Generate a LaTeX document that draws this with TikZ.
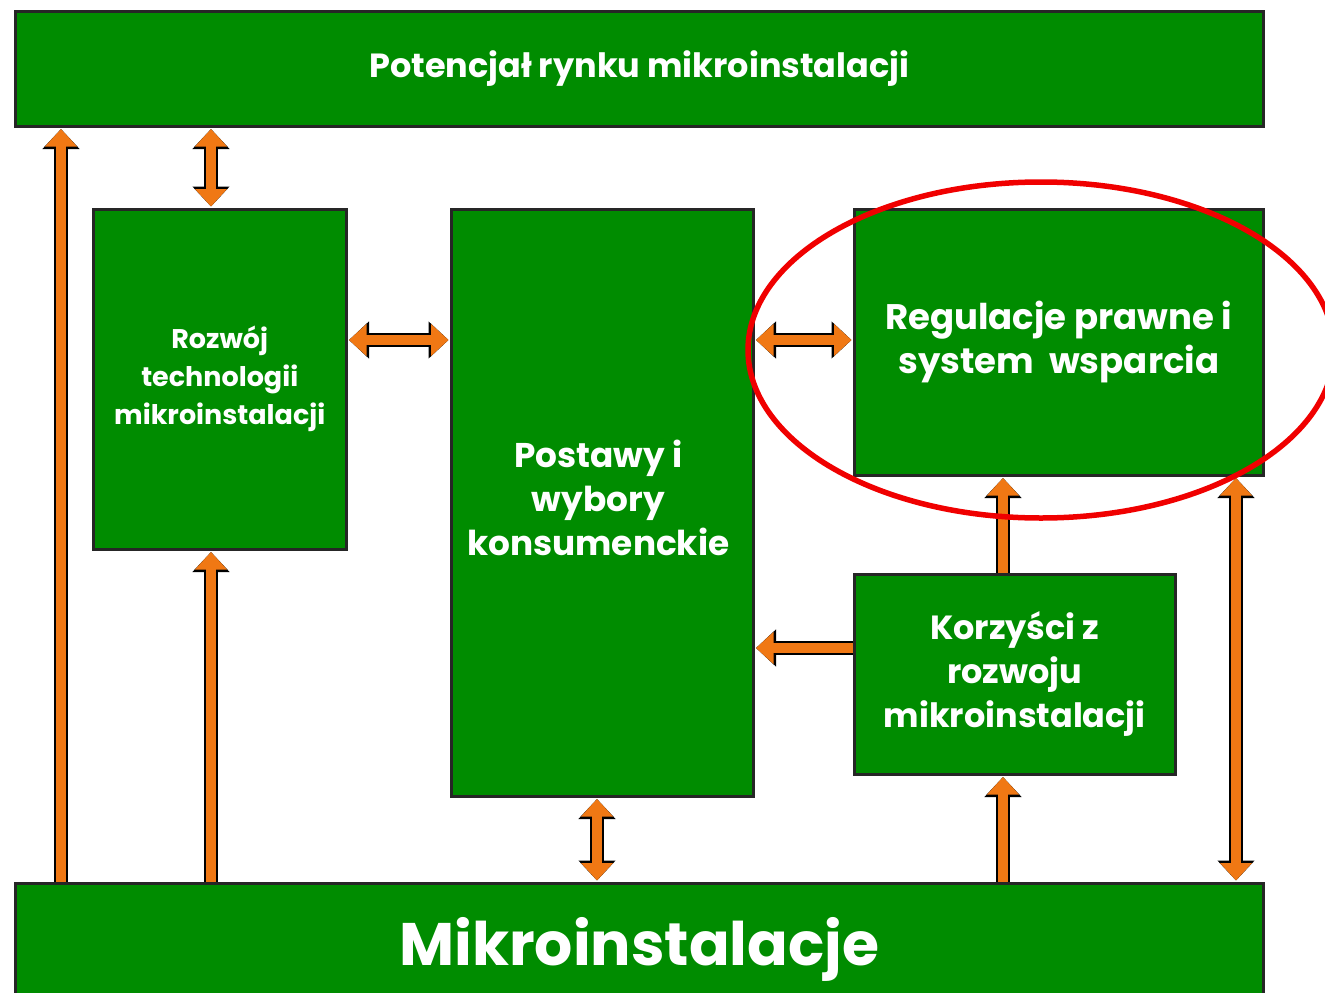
\documentclass[tikz,border=0pt]{standalone}
\usepackage{fontspec}
\setmainfont{Poppins}
\usetikzlibrary{arrows.meta,shapes.geometric}
\definecolor{boxgreen}{RGB}{0,140,0}
\definecolor{arrorange}{RGB}{240,120,20}
\definecolor{ringred}{RGB}{240,0,0}
\begin{document}
\begin{tikzpicture}[x=1pt,y=-1pt,
  box/.style={draw=black!85, line width=2.5pt, fill=boxgreen, anchor=north west,
    inner sep=0pt, text=white, align=center},
  uarr/.style={line width=10pt, draw=arrorange, shorten >=1.5pt,
    -{Triangle[width=31pt,length=17.5pt]},
    preaction={draw=black, line width=14pt, -{Triangle[width=36pt,length=20pt]}}},
  darr/.style={line width=10pt, draw=arrorange, shorten >=1.5pt, shorten <=1.5pt,
    {Triangle[width=31pt,length=17.5pt]}-{Triangle[width=31pt,length=17.5pt]},
    preaction={draw=black, line width=14pt,
      {Triangle[width=36pt,length=20pt]}-{Triangle[width=36pt,length=20pt]}}}
]
\useasboundingbox (0,0) rectangle (1325,993);
\clip (0,0) rectangle (1325,993);
\fill[white] (0,0) rectangle (1325,993);

\node[box, minimum width=1248pt, minimum height=115pt,
  font=\fontsize{33.5}{38}\selectfont\bfseries] (top) at (14,10) {Potencjał rynku mikroinstalacji};
\node[box, minimum width=1248pt, minimum height=130pt,
  font=\fontsize{60}{70}\selectfont\bfseries, text depth=0pt] (bot) at (14,882) {\raisebox{14pt}{Mikroinstalacje}};
\node[box, minimum width=253pt, minimum height=340pt,
  font=\fontsize{27}{38}\selectfont\bfseries] (tech) at (92,208) {Rozwój\\technologii\\mikroinstalacji};
\node[box, minimum width=302pt, minimum height=587pt,
  font=\fontsize{34.3}{44}\selectfont\bfseries] (post) at (450,208) {\hspace*{-8pt}\begin{tabular}{@{}c@{}}Postawy i\\wybory\\konsumenckie\end{tabular}};
\node[box, minimum width=409pt, minimum height=266pt,
  font=\fontsize{35.5}{44}\selectfont\bfseries] (reg) at (853,208) {\raisebox{8pt}{\begin{tabular}{@{}c@{}}Regulacje prawne i\\system~~wsparcia\end{tabular}}};
\node[box, minimum width=321pt, minimum height=200pt,
  font=\fontsize{33.5}{44}\selectfont\bfseries] (korz) at (853,573) {Korzyści z\\rozwoju\\mikroinstalacji};

\coordinate (xa) at (61,0);
\coordinate (xb) at (211,0);
\coordinate (xc) at (597,0);
\coordinate (xd) at (1003,0);
\coordinate (xe) at (1236,0);
\coordinate (ya) at (0,340);
\coordinate (yb) at (0,648);

\draw[uarr] (bot.north -| xa) -- (top.south -| xa);
\draw[darr] (top.south -| xb) -- (tech.north -| xb);
\draw[uarr] (bot.north -| xb) -- (tech.south -| xb);
\draw[darr] (tech.east |- ya) -- (post.west |- ya);
\draw[darr] (post.east |- ya) -- (reg.west |- ya);
\draw[uarr] (korz.west |- yb) -- (post.east |- yb);
\draw[uarr] (korz.north -| xd) -- (reg.south -| xd);
\draw[uarr] (bot.north -| xd) -- (korz.south -| xd);
\draw[darr] (post.south -| xc) -- (bot.north -| xc);
\draw[darr] (reg.south -| xe) -- (bot.north -| xe);

\node[draw=ringred, line width=5.5pt, ellipse, minimum width=586pt, minimum height=336pt] (ring) at (1041,350) {};
\end{tikzpicture}
\end{document}
